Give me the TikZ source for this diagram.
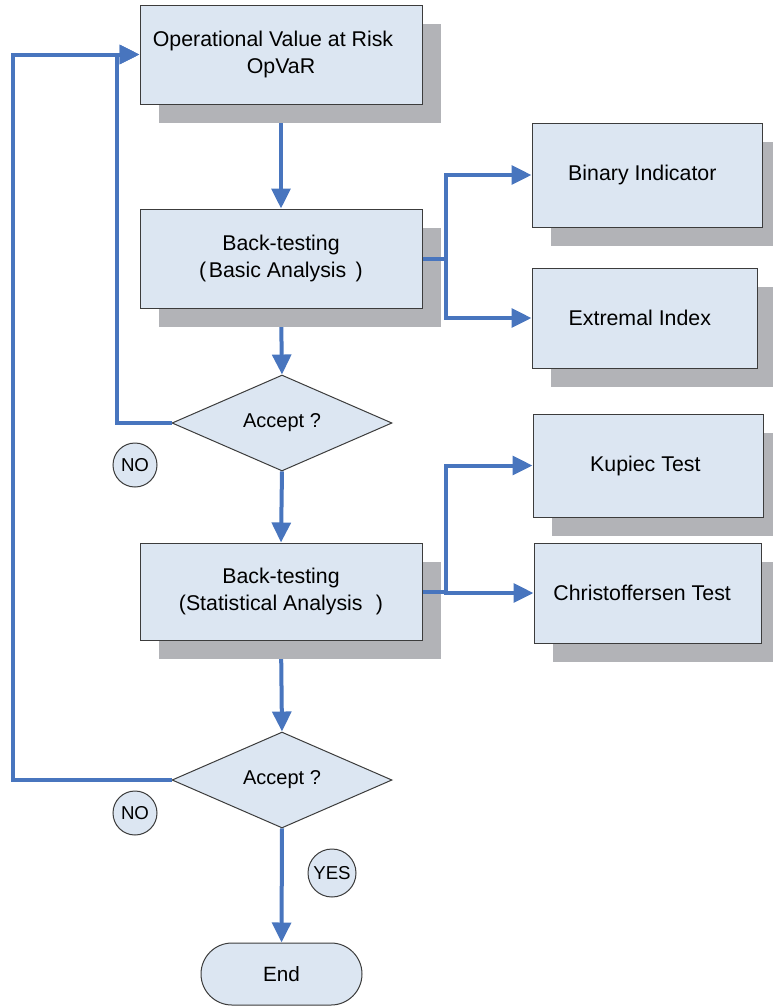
\documentclass[tikz,border=0pt]{standalone}
\usepackage{fontspec}
\setmainfont{Liberation Sans}
\usetikzlibrary{arrows.meta,shapes.geometric,shapes.misc,shadows,backgrounds}

\definecolor{boxfill}{RGB}{220,230,242}
\definecolor{boxline}{RGB}{60,60,60}
\definecolor{shadowgray}{RGB}{178,179,183}
\definecolor{flowblue}{RGB}{72,117,190}

\tikzset{
  box/.style={rectangle, draw=boxline, line width=0.75pt, fill=boxfill,
    inner sep=0pt, align=center, font=\fontsize{16}{20.5}\selectfont,
    drop shadow={shadow xshift=14.25pt, shadow yshift=-14.25pt,
      fill=shadowgray, opacity=1}},
  decision/.style={diamond, draw=boxline, line width=0.75pt, fill=boxfill,
    inner sep=0pt, minimum width=220*0.75pt, minimum height=95*0.75pt,
    font=\fontsize{15}{18}\selectfont},
  tag/.style={circle, draw=boxline, line width=0.75pt, fill=boxfill,
    inner sep=0pt, font=\fontsize{14}{16}\selectfont},
  terminal/.style={rounded rectangle, draw=boxline, line width=0.75pt,
    fill=boxfill, inner sep=0pt, minimum width=161*0.75pt,
    minimum height=62*0.75pt, font=\fontsize{15.5}{18}\selectfont},
  flow/.style={draw=flowblue, line width=3pt,
    -{Triangle[length=15pt,width=14pt]}},
  link/.style={draw=flowblue, line width=3pt}
}

\begin{document}
\begin{tikzpicture}[x=0.75pt,y=-0.75pt]
\useasboundingbox (0,0) rectangle (773,1007);
\begin{scope}[on background layer]
  \fill[white] (0,0) rectangle (773,1007);
\end{scope}
\clip (0,0) rectangle (773,1007);

% main column
\node[box, minimum width=282*0.75pt, minimum height=99*0.75pt]
  (opvar) at (281,54.5) {Operational Value at Risk\hspace*{12pt}\\OpVaR};
\node[box, minimum width=282*0.75pt, minimum height=99*0.75pt]
  (basic) at (281,258.5) {Back-testing\\(\hspace{2pt}Basic Analysis\hspace{7pt})};
\node[decision] (acc1) at (282,423) {Accept ?};
\node[box, minimum width=282*0.75pt, minimum height=97*0.75pt]
  (stat) at (281,591.5) {Back-testing\\(Statistical Analysis\hspace{10pt})};
\node[decision] (acc2) at (282,780) {Accept ?};
\node[terminal] (end) at (281.5,974) {End};

% side tests
\node[box, minimum width=230*0.75pt, minimum height=104*0.75pt]
  (binary) at (647,175) {Binary Indicator\hspace{7pt}};
\node[box, minimum width=225*0.75pt, minimum height=100*0.75pt]
  (extremal) at (644.5,318) {Extremal Index\hspace{7pt}};
\node[box, minimum width=230*0.75pt, minimum height=103*0.75pt]
  (kupiec) at (648,465.5) {Kupiec Test\hspace{4pt}};
\node[box, minimum width=227*0.75pt, minimum height=100*0.75pt]
  (christ) at (647.5,593) {Christoffersen Test\hspace{8pt}};

% answer tags
\node[tag, minimum size=44*0.75pt] (no1) at (135,465) {NO};
\node[tag, minimum size=44*0.75pt] (no2) at (135,813) {NO};
\node[tag, minimum size=48*0.75pt] (yes) at (332,873) {YES};

% routing points
\coordinate (loopin) at (117,423);
\coordinate (loopout) at (13,780);
\coordinate (fork1) at (446,258.5);
\coordinate (fork2) at (446,591.5);

% downward flow, passing under the drop shadows
\begin{scope}[on background layer]
  \draw[flow] (opvar.south) -- (basic.north);
  \draw[flow] (basic.south) -- (acc1.north);
  \draw[flow] (acc1.south) -- (stat.north);
  \draw[flow] (stat.south) -- (acc2.north);
  \draw[flow] (acc2.south) -- (end.north);
\end{scope}

% rejection loops back to the start
\draw[flow] (acc1.west) -- (loopin) |- (opvar.west);
\draw[flow] (acc2.west) -- (loopout) |- (opvar.west);

% branches to the individual tests
\draw[link] (basic.east) -- (fork1);
\draw[flow] (fork1) |- (binary.west);
\draw[flow] (fork1) |- (extremal.west);
\draw[link] (stat.east) -- (fork2);
\draw[flow] (fork2) |- (kupiec.west);
\draw[flow] (fork2) |- (christ.west);
\end{tikzpicture}
\end{document}
